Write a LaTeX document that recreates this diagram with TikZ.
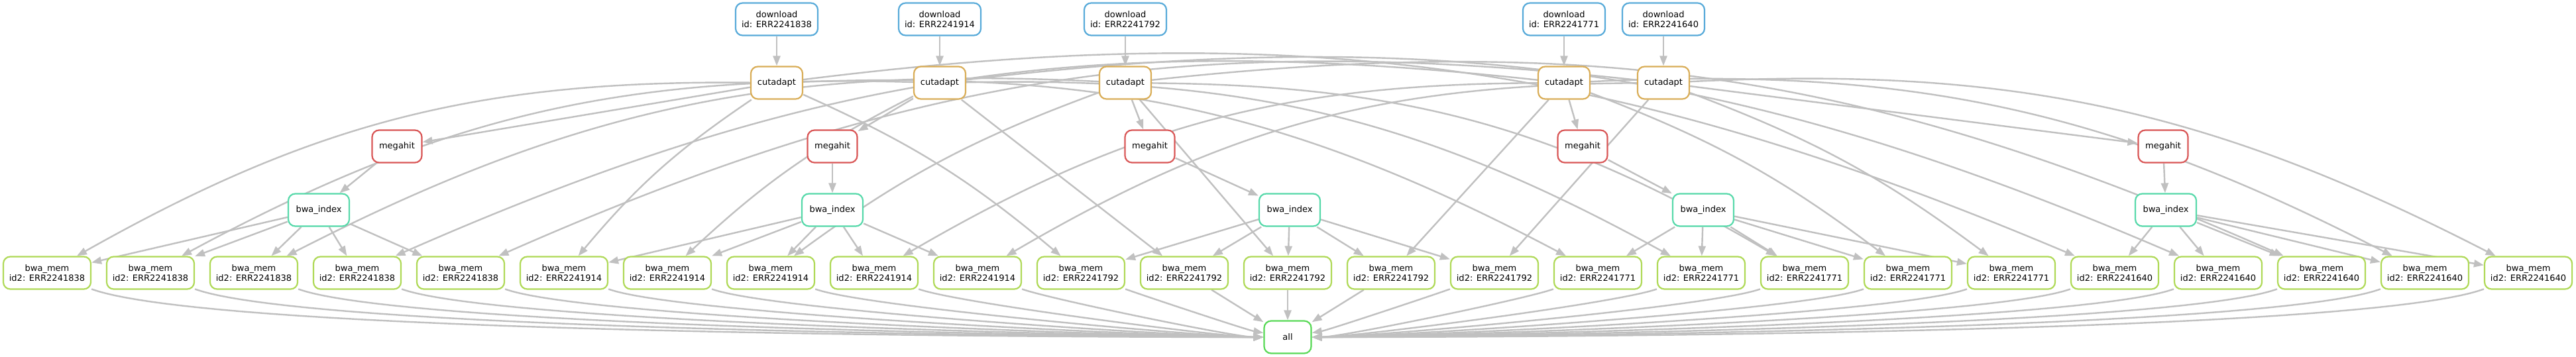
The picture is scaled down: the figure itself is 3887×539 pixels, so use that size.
\documentclass[tikz,border=0pt]{standalone}
\usepackage{fontspec}
\setmainfont{DejaVu Sans}
\usepackage{tikz}
\usetikzlibrary{shapes,arrows,arrows.meta,positioning,backgrounds}

\definecolor{dlblue}{RGB}{87,170,217}
\definecolor{cutorange}{RGB}{217,173,87}
\definecolor{mhred}{RGB}{217,87,87}
\definecolor{ixteal}{RGB}{87,217,170}
\definecolor{memgreen}{RGB}{175,217,87}
\definecolor{allgreen}{RGB}{89,217,87}
\definecolor{edgegrey}{RGB}{192,192,192}

\begin{document}
\begin{tikzpicture}[x=0.008cm, y=-0.008cm,
	job/.style={draw, fill=white, rounded corners=2.4pt, line width=0.5pt, minimum height=0.392cm, inner sep=0.8pt, align=center, font=\fontsize{2.96}{3.44}\selectfont},
	download/.style={job, draw=dlblue, minimum width=0.992cm},
	cutadapt/.style={job, draw=cutorange, minimum width=0.624cm},
	megahit/.style={job, draw=mhred, minimum width=0.6cm},
	bwaindex/.style={job, draw=ixteal, minimum width=0.736cm},
	bwamem/.style={job, draw=memgreen, minimum width=1.056cm},
	target/.style={job, draw=allgreen, minimum width=0.568cm},
	every edge/.style={draw=edgegrey, line width=0.55pt},
	>={Triangle[length=3.4pt,width=2.5pt]}]
	\useasboundingbox (0,0) rectangle (3887,539);

	\node[download] (d1) at (1172,29) {download\\id: ERR2241838};
	\node[download] (d2) at (1418,29) {download\\id: ERR2241914};
	\node[download] (d3) at (1698,29) {download\\id: ERR2241792};
	\node[download] (d4) at (2360,29) {download\\id: ERR2241771};
	\node[download] (d5) at (2510,29) {download\\id: ERR2241640};

	\node[cutadapt] (c1) at (1172,125) {cutadapt};
	\node[cutadapt] (c2) at (1418,125) {cutadapt};
	\node[cutadapt] (c3) at (1698,125) {cutadapt};
	\node[cutadapt] (c4) at (2360,125) {cutadapt};
	\node[cutadapt] (c5) at (2510,125) {cutadapt};

	\node[megahit] (mh1) at (599,221) {megahit};
	\node[megahit] (mh2) at (1256,221) {megahit};
	\node[megahit] (mh3) at (1735,221) {megahit};
	\node[megahit] (mh4) at (2388,221) {megahit};
	\node[megahit] (mh5) at (3264,221) {megahit};

	\node[bwaindex] (ix1) at (481,317) {bwa\_index};
	\node[bwaindex] (ix2) at (1256,317) {bwa\_index};
	\node[bwaindex] (ix3) at (1946,317) {bwa\_index};
	\node[bwaindex] (ix4) at (2570,317) {bwa\_index};
	\node[bwaindex] (ix5) at (3268,317) {bwa\_index};

	\node[bwamem] (m1) at (71,412) {bwa\_mem\\id2: ERR2241838};
	\node[bwamem] (m2) at (227,412) {bwa\_mem\\id2: ERR2241838};
	\node[bwamem] (m3) at (383,412) {bwa\_mem\\id2: ERR2241838};
	\node[bwamem] (m4) at (539,412) {bwa\_mem\\id2: ERR2241838};
	\node[bwamem] (m5) at (695,412) {bwa\_mem\\id2: ERR2241838};
	\node[bwamem] (m6) at (851,412) {bwa\_mem\\id2: ERR2241914};
	\node[bwamem] (m7) at (1007,412) {bwa\_mem\\id2: ERR2241914};
	\node[bwamem] (m8) at (1163,412) {bwa\_mem\\id2: ERR2241914};
	\node[bwamem] (m9) at (1319,412) {bwa\_mem\\id2: ERR2241914};
	\node[bwamem] (m10) at (1475,412) {bwa\_mem\\id2: ERR2241914};
	\node[bwamem] (m11) at (1631,412) {bwa\_mem\\id2: ERR2241792};
	\node[bwamem] (m12) at (1787,412) {bwa\_mem\\id2: ERR2241792};
	\node[bwamem] (m13) at (1943,412) {bwa\_mem\\id2: ERR2241792};
	\node[bwamem] (m14) at (2099,412) {bwa\_mem\\id2: ERR2241792};
	\node[bwamem] (m15) at (2255,412) {bwa\_mem\\id2: ERR2241792};
	\node[bwamem] (m16) at (2411,412) {bwa\_mem\\id2: ERR2241771};
	\node[bwamem] (m17) at (2567,412) {bwa\_mem\\id2: ERR2241771};
	\node[bwamem] (m18) at (2723,412) {bwa\_mem\\id2: ERR2241771};
	\node[bwamem] (m19) at (2879,412) {bwa\_mem\\id2: ERR2241771};
	\node[bwamem] (m20) at (3035,412) {bwa\_mem\\id2: ERR2241771};
	\node[bwamem] (m21) at (3191,412) {bwa\_mem\\id2: ERR2241640};
	\node[bwamem] (m22) at (3347,412) {bwa\_mem\\id2: ERR2241640};
	\node[bwamem] (m23) at (3503,412) {bwa\_mem\\id2: ERR2241640};
	\node[bwamem] (m24) at (3659,412) {bwa\_mem\\id2: ERR2241640};
	\node[bwamem] (m25) at (3815,412) {bwa\_mem\\id2: ERR2241640};

	\node[target] (all) at (1943,509) {all};

	\begin{scope}[on background layer]
	\path [->] (d1) edge (c1);
	\path [->] (d2) edge (c2);
	\path [->] (d3) edge (c3);
	\path [->] (d4) edge (c4);
	\path [->] (d5) edge (c5);

	\path [->] (c1) edge (mh1);
	\path [->] (c2) edge (mh2);
	\path [->] (c3) edge (mh3);
	\path [->] (c4) edge (mh4);
	\path [->] (c5) edge (mh5);

	\path [->] (mh1) edge (ix1);
	\path [->] (mh2) edge (ix2);
	\path [->] (mh3) edge (ix3);
	\path [->] (mh4) edge (ix4);
	\path [->] (mh5) edge (ix5);

	\path [->] (ix1) edge (m1);
	\path [->] (ix1) edge (m2);
	\path [->] (ix1) edge (m3);
	\path [->] (ix1) edge (m4);
	\path [->] (ix1) edge (m5);
	\path [->] (ix2) edge (m6);
	\path [->] (ix2) edge (m7);
	\path [->] (ix2) edge (m8);
	\path [->] (ix2) edge (m9);
	\path [->] (ix2) edge (m10);
	\path [->] (ix3) edge (m11);
	\path [->] (ix3) edge (m12);
	\path [->] (ix3) edge (m13);
	\path [->] (ix3) edge (m14);
	\path [->] (ix3) edge (m15);
	\path [->] (ix4) edge (m16);
	\path [->] (ix4) edge (m17);
	\path [->] (ix4) edge (m18);
	\path [->] (ix4) edge (m19);
	\path [->] (ix4) edge (m20);
	\path [->] (ix5) edge (m21);
	\path [->] (ix5) edge (m22);
	\path [->] (ix5) edge (m23);
	\path [->] (ix5) edge (m24);
	\path [->] (ix5) edge (m25);

	% reads of each sample against every assembly
	\path [->] (c1) edge[bend right=15] (m1);
	\path [->] (c1) edge[bend right=8] (m6);
	\path [->] (c1) edge[bend left=8] (m11);
	\path [->] (c1) edge[bend left=15] (m16);
	\path [->] (c1) edge[bend left=15] (m21);
	\path [->] (c2) edge[bend right=15] (m2);
	\path [->] (c2) edge[bend right=8] (m7);
	\path [->] (c2) edge (m12);
	\path [->] (c2) edge[bend left=15] (m17);
	\path [->] (c2) edge[bend left=15] (m22);
	\path [->] (c3) edge[bend right=15] (m3);
	\path [->] (c3) edge[bend right=8] (m8);
	\path [->] (c3) edge (m13);
	\path [->] (c3) edge[bend left=15] (m18);
	\path [->] (c3) edge[bend left=15] (m23);
	\path [->] (c4) edge[bend right=15] (m4);
	\path [->] (c4) edge[bend right=15] (m9);
	\path [->] (c4) edge (m14);
	\path [->] (c4) edge[bend left=8] (m19);
	\path [->] (c4) edge[bend left=15] (m24);
	\path [->] (c5) edge[bend right=15] (m5);
	\path [->] (c5) edge[bend right=15] (m10);
	\path [->] (c5) edge (m15);
	\path [->] (c5) edge[bend left=8] (m20);
	\path [->] (c5) edge[bend left=15] (m25);

	\path [->] (m1) edge[out=-20, in=180, looseness=0.3] (all);
	\path [->] (m2) edge[out=-20, in=180, looseness=0.3] (all);
	\path [->] (m3) edge[out=-20, in=180, looseness=0.3] (all);
	\path [->] (m4) edge[out=-20, in=180, looseness=0.3] (all);
	\path [->] (m5) edge[out=-20, in=180, looseness=0.3] (all);
	\path [->] (m6) edge[out=-20, in=180, looseness=0.3] (all);
	\path [->] (m7) edge[out=-20, in=180, looseness=0.3] (all);
	\path [->] (m8) edge[out=-20, in=180, looseness=0.3] (all);
	\path [->] (m9) edge[out=-20, in=180, looseness=0.3] (all);
	\path [->] (m10) edge[out=-20, in=180, looseness=0.3] (all);
	\path [->] (m11) edge[out=-20, in=170, looseness=0.3] (all);
	\path [->] (m12) edge (all);
	\path [->] (m13) edge (all);
	\path [->] (m14) edge (all);
	\path [->] (m15) edge[out=200, in=10, looseness=0.3] (all);
	\path [->] (m16) edge[out=200, in=0, looseness=0.3] (all);
	\path [->] (m17) edge[out=200, in=0, looseness=0.3] (all);
	\path [->] (m18) edge[out=200, in=0, looseness=0.3] (all);
	\path [->] (m19) edge[out=200, in=0, looseness=0.3] (all);
	\path [->] (m20) edge[out=200, in=0, looseness=0.3] (all);
	\path [->] (m21) edge[out=200, in=0, looseness=0.3] (all);
	\path [->] (m22) edge[out=200, in=0, looseness=0.3] (all);
	\path [->] (m23) edge[out=200, in=0, looseness=0.3] (all);
	\path [->] (m24) edge[out=200, in=0, looseness=0.3] (all);
	\path [->] (m25) edge[out=200, in=0, looseness=0.3] (all);
	\end{scope}
\end{tikzpicture}
\end{document}
